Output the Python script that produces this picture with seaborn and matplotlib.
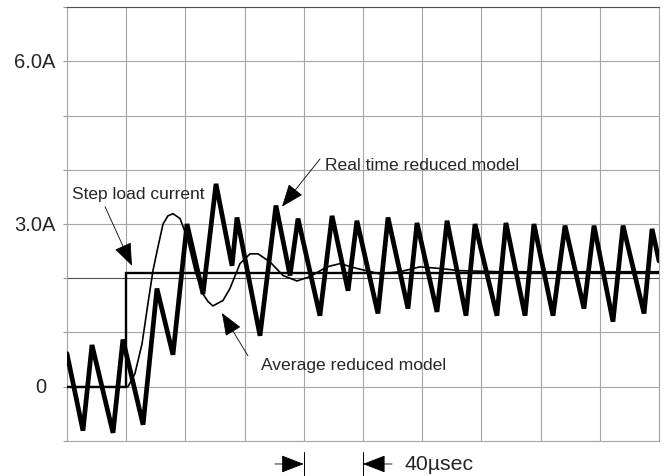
import numpy as np
import pandas as pd
import matplotlib
matplotlib.use("Agg")
import matplotlib.pyplot as plt
import seaborn as sns

# ---- data (time in usec, current in A) ----
real_t = [0, 10.8, 16.9, 31.1, 37.8, 51.4, 60.8, 71.6, 81.1, 91.9, 100.7, 111.5,
          114.9, 130.4, 141.2, 150.7, 156.1, 170.9, 179.1, 189.9, 195.9, 210.1,
          216.9, 230.4, 236.5, 250.0, 256.8, 269.6, 275.7, 290.5, 296.6, 309.5,
          315.5, 328.4, 336.5, 349.3, 356.1, 368.9, 375.7, 389.9, 395.3, 400]
real_i = [0.61, -0.81, 0.77, -0.85, 0.87, -0.70, 1.81, 0.59, 3.00, 1.71, 3.74, 2.23,
          3.12, 0.94, 3.34, 2.05, 3.10, 1.31, 3.15, 1.77, 3.06, 1.35,
          3.12, 1.44, 3.02, 1.38, 3.06, 1.31, 3.00, 1.31, 3.02, 1.31,
          3.00, 1.31, 2.97, 1.44, 2.97, 1.20, 2.97, 1.35, 2.91, 2.32]

avg_t = [0, 41.2, 45.9, 50.7, 54.7, 58.1, 61.5, 64.9, 68.2, 71.6, 76.4, 81.1,
         86.5, 91.9, 95.3, 98.6, 105.4, 110.1, 116.9, 123.7, 129.1, 137.2,
         146.0, 155.4, 164.2, 175.7, 184.5, 196.0, 211.5, 225.0, 238.5, 252.0,
         265.5, 292.6, 400]
avg_i = [0, 0, 0.24, 0.79, 1.53, 2.14, 2.58, 3.00, 3.15, 3.19, 3.10, 2.76,
         2.14, 1.71, 1.57, 1.49, 1.59, 1.81, 2.27, 2.45, 2.45, 2.30,
         2.05, 1.95, 2.03, 2.21, 2.27, 2.18, 2.08, 2.12, 2.21, 2.18,
         2.14, 2.12, 2.12]

step_t = [0, 40, 40, 400]
step_i = [0, 0, 2.1, 2.1]

ytick_vals = [0, 3, 6]
ytick_text = ["0", "3.0A", "6.0A"]

sns.set_style("white")
plt.rcParams["font.family"] = ["Liberation Sans", "DejaVu Sans"]

fig = plt.figure(figsize=(6.67, 4.77), dpi=100)
ax = fig.add_axes([0.1004, 0.0734, 0.8876, 0.9098])

sns.lineplot(x=step_t, y=step_i, sort=False, estimator=None, color="black",
             lw=1.7, ax=ax, zorder=3)
sns.lineplot(x=avg_t, y=avg_i, sort=False, estimator=None, color="black",
             lw=1.2, ax=ax, zorder=4)
sns.lineplot(x=real_t, y=real_i, sort=False, estimator=None, color="black",
             lw=3.4, ax=ax, zorder=5)
for ln in ax.lines:
    ln.set_solid_joinstyle("miter")

ax.set_xlim(0, 400)
ax.set_ylim(-1, 7)
ax.set_xticks(np.arange(0, 401, 40))
ax.set_yticks(np.arange(-1, 8, 1))
ax.set_xticklabels([])
ax.set_yticklabels([])
ax.tick_params(axis="y", length=3, color="#999999", left=True)
ax.tick_params(axis="x", length=0)
ax.grid(True, color="#a5a5a5", lw=0.8)
# the 2A division shows darker on the scope trace
ax.get_ygridlines()[3].set_color("#505050")
for s in ["left", "right", "bottom"]:
    ax.spines[s].set_color("#a5a5a5")
    ax.spines[s].set_linewidth(0.8)
ax.spines["top"].set_color("#505050")
ax.set_xlabel("")
ax.set_ylabel("")

ylab = ax.get_yaxis_transform()
for v, t in zip(ytick_vals, ytick_text):
    xo = -0.034 if t == "0" else -0.020
    ax.text(xo, v, t, transform=ylab, ha="right", va="center", fontsize=14.5)

arrow = dict(arrowstyle="-|>,head_length=0.9,head_width=0.35", color="black",
             lw=0.6, mutation_scale=16, shrinkA=0, shrinkB=0)
ax.annotate("", xy=(43.9, 2.23), xytext=(25.7, 3.32), arrowprops=arrow)
ax.text(3.4, 3.56, "Step load current", ha="left", va="center", fontsize=12.5)
ax.annotate("", xy=(145.3, 3.32), xytext=(171, 4.20), arrowprops=arrow)
ax.text(174.3, 4.09, "Real time reduced model", ha="left", va="center", fontsize=12.6)
ax.annotate("", xy=(104.7, 1.36), xytext=(122.3, 0.57), arrowprops=arrow)
ax.text(131.1, 0.41, "Average reduced model", ha="left", va="center", fontsize=12.6)

# 40 usec scale marker under the plot
xa = ax.get_xaxis_transform()
for xb in [160, 200]:
    ax.plot([xb, xb], [-0.025, -0.083], transform=xa, color="black", lw=0.7,
            clip_on=False)
ax.annotate("", xy=(160, -0.053), xytext=(140.5, -0.053), xycoords=xa,
            textcoords=xa, arrowprops=arrow, annotation_clip=False)
ax.annotate("", xy=(200, -0.053), xytext=(219.6, -0.053), xycoords=xa,
            textcoords=xa, arrowprops=arrow, annotation_clip=False)
ax.text(228, -0.053, "40\u00b5sec", transform=xa, ha="left", va="center",
        fontsize=15.3)

fig.savefig("out.png", dpi=100)
